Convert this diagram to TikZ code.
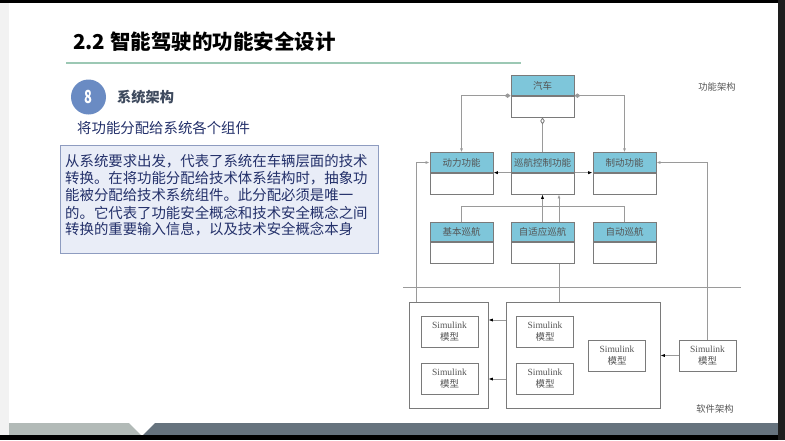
\documentclass[tikz,border=0pt]{standalone}
\usepackage{fontspec}
\setmainfont{Liberation Serif}
\newfontfamily\cjk{Noto Sans CJK SC}
\usetikzlibrary{arrows.meta}
\definecolor{hdrc}{HTML}{7EC6DA}
\definecolor{lnc}{HTML}{9A9A9A}
\definecolor{bdc}{HTML}{7A7A7A}
\definecolor{txc}{HTML}{555555}
\definecolor{grnc}{HTML}{9CC8B4}
\definecolor{circc}{HTML}{6A8BC3}
\definecolor{subtc}{HTML}{3E4A5E}
\definecolor{navyc}{HTML}{23306A}
\definecolor{boxfc}{HTML}{E9EDF7}
\definecolor{boxdc}{HTML}{8E9CC0}
\definecolor{bandlc}{HTML}{B2BAB7}
\definecolor{banddc}{HTML}{66737E}
\definecolor{darkc}{HTML}{1E1E1E}
\definecolor{leftc}{HTML}{F2F2F2}
\pgfdeclarelayer{bg}
\pgfdeclarelayer{lines}
\pgfsetlayers{bg,lines,main}
\tikzset{
  hdr/.style={draw=bdc, fill=hdrc, line width=0.8pt, minimum width=63pt, minimum height=19.5pt, inner sep=0pt, font=\cjk\fontsize{9.5}{11}\selectfont, text=txc},
  bdy/.style={draw=bdc, fill=white, line width=0.8pt, minimum width=63pt, minimum height=21pt, inner sep=0pt},
  simbox/.style={draw=bdc, fill=white, line width=0.8pt, minimum width=57pt, minimum height=31pt, inner sep=0pt, align=center, font=\fontsize{9.5}{12}\selectfont, text=txc},
  bigbox/.style={draw=bdc, line width=0.8pt, inner sep=0pt},
  conn/.style={draw=lnc, line width=0.8pt},
  gtip/.style={-{Latex[length=4pt,width=3pt,color=lnc]}},
  btip/.style={-{Latex[length=4.5pt,width=3.2pt,color=black]}},
  lbl/.style={font=\cjk\fontsize{9.3}{11}\selectfont, text=txc, inner sep=0pt},
  para/.style={font=\cjk\fontsize{14.4}{17}\selectfont, text=navyc, anchor=west, inner sep=0pt}
}
\begin{document}
\begin{tikzpicture}[x=1pt,y=-1pt]
\useasboundingbox (0,0) rectangle (785,440);
\begin{pgfonlayer}{bg}
\fill[white] (0,0) rectangle (785,440);
\fill[leftc] (0,0) rectangle (9,440);
\fill[black] (0,0) rectangle (785,3);
\fill[bandlc] (9,423) -- (129,423) -- (141,435) -- (9,435) -- cycle;
\fill[banddc] (155,423) -- (778,423) -- (778,435) -- (143,435) -- cycle;
\fill[black] (0,435) rectangle (785,440);
\fill[darkc] (778,0) rectangle (785,440);
\draw[grnc, line width=2pt] (66,63) -- (521,63);
\end{pgfonlayer}

% title and left text
\node[anchor=west, inner sep=0pt, font=\cjk\bfseries\fontsize{20.5}{24}\selectfont] (title) at (73,42) {2.2 智能驾驶的功能安全设计};
\node[circle, fill=circc, minimum size=35pt, inner sep=0pt, text=white, font=\cjk\bfseries\fontsize{18}{20}\selectfont] (num) at (88.5,97) {\scalebox{0.72}[1]{8}};
\node[anchor=west, inner sep=0pt, text=subtc, font=\cjk\bfseries\fontsize{14.2}{17}\selectfont] (sub) at (117,97) {系统架构};
\node[anchor=west, inner sep=0pt, text=navyc, font=\cjk\fontsize{14.4}{17}\selectfont] (sub2) at (77,128) {将功能分配给系统各个组件};
\node[draw=boxdc, fill=boxfc, line width=1pt, minimum width=318pt, minimum height=108pt, inner sep=0pt] (pbox) at (219,199) {};
\node[para] (l1) at (65,161) {从系统要求出发，代表了系统在车辆层面的技术};
\node[para] (l2) at (65,178.5) {转换。在将功能分配给技术体系结构时，抽象功};
\node[para] (l3) at (65,195.5) {能被分配给技术系统组件。此分配必须是唯一};
\node[para] (l4) at (65,212.5) {的。它代表了功能安全概念和技术安全概念之间};
\node[para] (l5) at (65,229.5) {转换的重要输入信息，以及技术安全概念本身};

% functional architecture
\node[hdr] (car) at (542.5,85.5) {汽车};
\node[bdy, anchor=north] (carb) at (car.south) {};
\node[hdr] (dongli) at (461.5,162.5) {动力功能};
\node[bdy, anchor=north] (donglib) at (dongli.south) {};
\node[hdr] (xunhang) at (542.5,162.5) {巡航控制功能};
\node[bdy, anchor=north] (xunhangb) at (xunhang.south) {};
\node[hdr] (zhidong) at (624.5,162.5) {制动功能};
\node[bdy, anchor=north] (zhidongb) at (zhidong.south) {};
\node[hdr] (jiben) at (461.5,232) {基本巡航};
\node[bdy, anchor=north] (jibenb) at (jiben.south) {};
\node[hdr] (zsy) at (542.5,232) {自适应巡航};
\node[bdy, anchor=north] (zsyb) at (zsy.south) {};
\node[hdr] (zidong) at (624.5,232) {自动巡航};
\node[bdy, anchor=north] (zidongb) at (zidong.south) {};
\node[lbl] (fa) at (717,87) {功能架构};

% software architecture
\node[bigbox, minimum width=79pt, minimum height=106pt] (swl) at (448.5,355) {};
\node[bigbox, minimum width=154pt, minimum height=106pt] (swm) at (583,355) {};
\node[simbox] (sl1) at (449.5,331.5) {Simulink\\{\cjk 模型}};
\node[simbox] (sl2) at (449.5,378.5) {Simulink\\{\cjk 模型}};
\node[simbox] (sm1) at (545,331.5) {Simulink\\{\cjk 模型}};
\node[simbox] (sm2) at (545,378.5) {Simulink\\{\cjk 模型}};
\node[simbox] (sm3) at (617,355.5) {Simulink\\{\cjk 模型}};
\node[simbox] (swr) at (707.5,355.5) {Simulink\\{\cjk 模型}};
\node[lbl] (sa) at (715,409) {软件架构};

\coordinate (sepl) at (403,287);
\coordinate (sepr) at (741,287);
\coordinate (xb) at (559,0);
\coordinate (xl) at (416,0);
\coordinate (a1) at (0,320);
\coordinate (a2) at (0,379);

\begin{pgfonlayer}{lines}
\draw[conn, {Diamond[length=6pt,width=4.5pt,color=lnc,fill=lnc]}-{Latex[length=4pt,width=3pt,color=lnc]}] (car.south west) -| (dongli.north);
\draw[conn, {Diamond[length=6pt,width=4.5pt,color=lnc,fill=lnc]}-{Latex[length=4pt,width=3pt,color=lnc]}] (car.south east) -| (zhidong.north);
\draw[conn, {Diamond[open,length=7pt,width=4.5pt,color=bdc,fill=white]}-] (carb.south) -- (xunhang.north);
\draw[conn, btip] (xunhang.south west) -- (dongli.south east);
\draw[conn, btip] (xunhang.south east) -- (zhidong.south west);
\draw[conn] (jiben.north) -- ++(0,-15) -| (zidong.north);
\draw[conn, btip] (zsy.north) -- (xunhangb.south);
\draw[conn, gtip] (xb |- swm.north) -- (xb |- xunhangb.south);
\draw[conn, gtip] (xl |- swl.north) |- (dongli.west);
\draw[conn, gtip] (swr.north) |- (zhidong.east);
\draw[conn] (sepl) -- (sepr);
\draw[conn, btip] (swm.west |- a1) -- (swl.east |- a1);
\draw[conn, btip] (swm.west |- a2) -- (swl.east |- a2);
\draw[conn, btip] (swr.west) -- (swm.east |- swr.west);
\end{pgfonlayer}
\end{tikzpicture}
\end{document}
